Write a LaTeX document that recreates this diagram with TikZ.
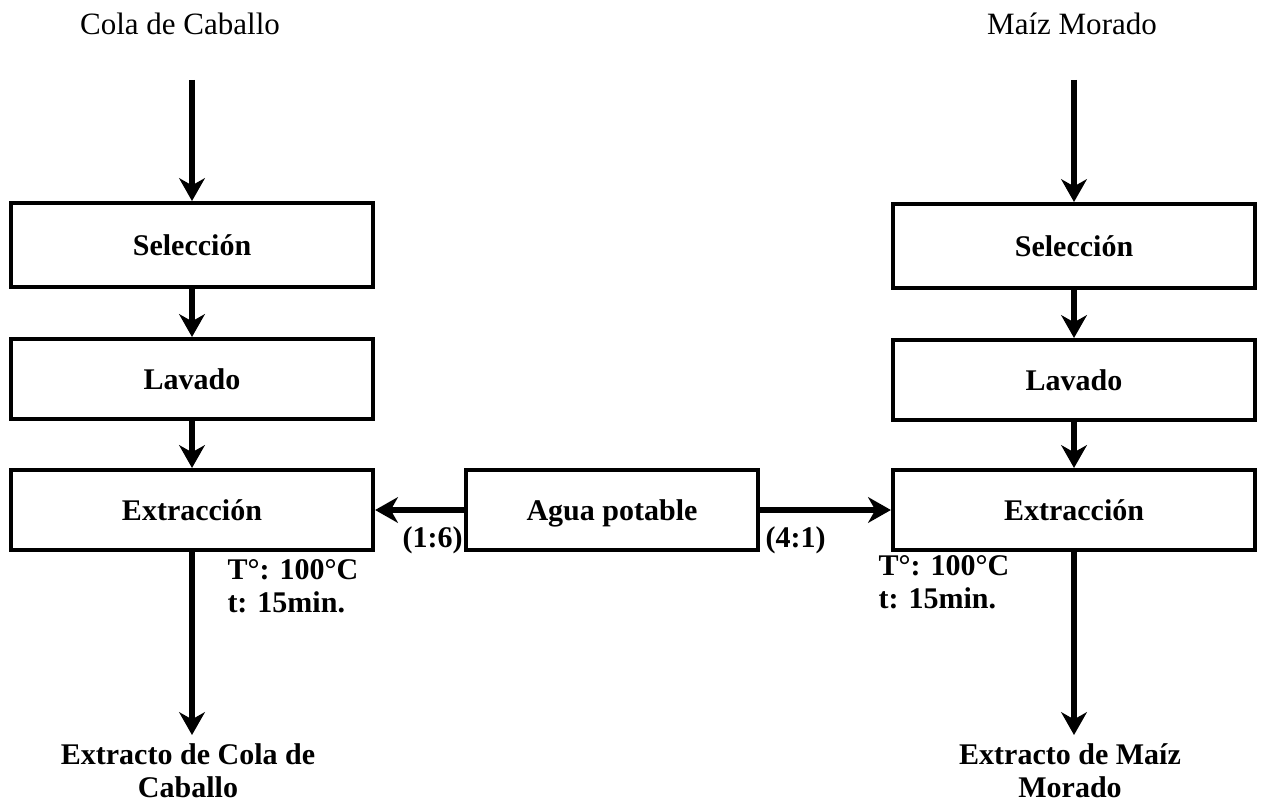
\documentclass[tikz,border=0pt]{standalone}
\usepackage{fontspec}
\setmainfont{Liberation Serif}
\usetikzlibrary{arrows.meta}

\begin{document}
\begin{tikzpicture}[x=0.01406cm,y=-0.01406cm,
  font=\fontsize{12.4}{13}\selectfont,
  proc/.style={draw,line width=1.6pt,minimum width=5.09cm,minimum height=1.125cm,text height=8pt,text depth=0pt,font=\fontsize{12}{13}\selectfont\bfseries},
  etiqueta/.style={inner sep=0pt,align=left,font=\fontsize{12}{13}\selectfont\bfseries},
  flecha/.style={line width=2.2pt,-{Stealth[length=0.32cm,width=0.36cm,inset=0.1cm]}}]
\useasboundingbox (0,0) rectangle (1262,810);
% columna izquierda
\node[anchor=base] (cola) at (180,35) {Cola de Caballo};
\coordinate (in1) at (192,80);
\node[proc,minimum height=1.18cm] (sel1) at (192,245) {Selección};
\node[proc] (lav1) at (192,379) {Lavado};
\node[proc] (ext1) at (192,510) {Extracción};
\coordinate (out1) at (192,735);
\node[etiqueta,anchor=base,align=center] (prod1) at (188,797) {Extracto de Cola de\\Caballo};
\node[etiqueta,anchor=base west] (cond1) at (227,612) {T°: 100°C\\t: 15min.};
% columna derecha
\node[anchor=base] (maiz) at (1072,35) {Maíz Morado};
\coordinate (in2) at (1074,80);
\node[proc,minimum height=1.18cm] (sel2) at (1074,246) {Selección};
\node[proc] (lav2) at (1074,380) {Lavado};
\node[proc] (ext2) at (1074,510) {Extracción};
\coordinate (out2) at (1074,735);
\node[etiqueta,anchor=base,align=center] (prod2) at (1070,797) {Extracto de Maíz\\Morado};
\node[etiqueta,anchor=base west] (cond2) at (878,608) {T°: 100°C\\t: 15min.};
% agua
\node[proc,minimum width=4.1cm] (agua) at (612,510) {Agua potable};
\node[etiqueta,anchor=base east] (r1) at (463,547) {(1:6)};
\node[etiqueta,anchor=base west] (r2) at (765,547) {(4:1)};

\draw[flecha] (in1) -- (sel1);
\draw[flecha] (sel1) -- (lav1);
\draw[flecha] (lav1) -- (ext1);
\draw[flecha] (ext1) -- (out1);
\draw[flecha] (in2) -- (sel2);
\draw[flecha] (sel2) -- (lav2);
\draw[flecha] (lav2) -- (ext2);
\draw[flecha] (ext2) -- (out2);
\draw[flecha] (agua) -- (ext1);
\draw[flecha] (agua) -- (ext2);
\end{tikzpicture}
\end{document}
